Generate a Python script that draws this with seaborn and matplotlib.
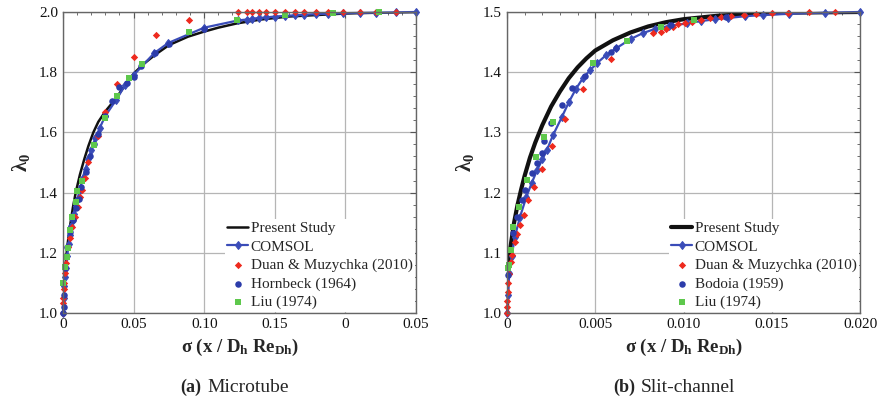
import numpy as np
import pandas as pd
import matplotlib
matplotlib.use("Agg")
import matplotlib.pyplot as plt
import seaborn as sns
from matplotlib.ticker import AutoMinorLocator

# ---------------- data: (a) Microtube ----------------
a_present_x = [0, 0.0005, 0.001, 0.002, 0.003, 0.005, 0.007, 0.009, 0.012, 0.015, 0.018, 0.0215, 0.025,
               0.03, 0.037, 0.043, 0.05, 0.057, 0.065, 0.075, 0.0885, 0.10, 0.11, 0.123, 0.14, 0.16,
               0.18, 0.20, 0.225, 0.25]
a_present_y = [1.0, 1.07, 1.11, 1.17, 1.22, 1.29, 1.35, 1.40, 1.46, 1.51, 1.555, 1.60, 1.635,
               1.67, 1.71, 1.75, 1.795, 1.827, 1.857, 1.89, 1.918, 1.935, 1.948, 1.962, 1.975, 1.985,
               1.99, 1.995, 1.998, 2.0]

a_comsol_x = [0, 0.0005, 0.001, 0.0015, 0.002, 0.003, 0.004, 0.005, 0.006, 0.007, 0.008, 0.009, 0.010,
              0.012, 0.014, 0.016, 0.018, 0.020, 0.023, 0.026, 0.030, 0.0375, 0.044, 0.050, 0.0645,
              0.0745, 0.100, 0.124, 0.130, 0.134, 0.139, 0.144, 0.150, 0.157, 0.164, 0.171, 0.179,
              0.188, 0.198, 0.210, 0.222, 0.236, 0.25]
a_comsol_y = [1.0, 1.05, 1.09, 1.12, 1.15, 1.19, 1.23, 1.26, 1.29, 1.31, 1.33, 1.355, 1.375,
              1.41, 1.45, 1.48, 1.51, 1.54, 1.58, 1.615, 1.655, 1.707, 1.757, 1.79, 1.863,
              1.897, 1.948, 1.972, 1.975, 1.978, 1.98, 1.982, 1.985, 1.987, 1.989, 1.991, 1.993,
              1.994, 1.996, 1.997, 1.998, 1.999, 2.0]

a_duan_x = [0, 0.0002, 0.0003, 0.0004, 0.0008, 0.0014, 0.0021, 0.0038, 0.005, 0.0066, 0.0085, 0.0108,
            0.012, 0.0132, 0.0156, 0.0179, 0.0246, 0.030, 0.038, 0.0503, 0.0658, 0.089,
            0.124, 0.130, 0.134, 0.139, 0.144, 0.150, 0.157, 0.164, 0.171, 0.179, 0.188, 0.198,
            0.210, 0.222, 0.236]
a_duan_y = [1.0, 1.033, 1.05, 1.08, 1.10, 1.133, 1.166, 1.22, 1.249, 1.287, 1.32, 1.353,
            1.386, 1.409, 1.447, 1.503, 1.588, 1.668, 1.761, 1.85, 1.924, 1.973,
            2.0, 2.0, 2.0, 2.0, 2.0, 2.0, 2.0, 2.0, 2.0, 2.0, 2.0, 2.0,
            2.0, 2.0, 2.0]

a_hornbeck_x = [0, 0.0005, 0.001, 0.0015, 0.003, 0.005, 0.007, 0.009, 0.011, 0.013, 0.016, 0.019,
                0.022, 0.025, 0.03, 0.035, 0.04, 0.045, 0.05, 0.055, 0.065, 0.075, 0.1]
a_hornbeck_y = [1.0, 1.02, 1.06, 1.15, 1.22, 1.27, 1.31, 1.35, 1.38, 1.42, 1.47, 1.52,
                1.56, 1.595, 1.655, 1.705, 1.75, 1.765, 1.785, 1.82, 1.865, 1.893, 1.945]

a_liu_x = [0.0002, 0.0014, 0.0026, 0.0033, 0.005, 0.0066, 0.009, 0.0101, 0.0132, 0.022, 0.0297,
           0.0385, 0.0467, 0.0557, 0.0892, 0.123, 0.157, 0.191, 0.224]
a_liu_y = [1.10, 1.154, 1.187, 1.216, 1.276, 1.32, 1.37, 1.406, 1.438, 1.558, 1.647,
           1.722, 1.782, 1.826, 1.932, 1.973, 1.99, 1.998, 2.0]

a_xticks = [0, 0.05, 0.10, 0.15, 0.20, 0.25]
a_xticklabels = ["0", "0.05", "0.10", "0.15", "0", "0.05"]
a_yticks = [1.0, 1.2, 1.4, 1.6, 1.8, 2.0]

# ---------------- data: (b) Slit-channel ----------------
b_present_x = [0, 0.00002, 0.0001, 0.0002, 0.0004, 0.0006, 0.0008, 0.001, 0.0013, 0.0016, 0.002,
               0.0025, 0.003, 0.0035, 0.004, 0.0045, 0.005, 0.006, 0.007, 0.008, 0.009, 0.010,
               0.012, 0.014, 0.016, 0.02]
b_present_y = [1.0, 1.06, 1.09, 1.11, 1.15, 1.18, 1.205, 1.228, 1.258, 1.283, 1.312,
               1.343, 1.368, 1.39, 1.408, 1.423, 1.436, 1.453, 1.466, 1.476, 1.483, 1.488,
               1.494, 1.497, 1.499, 1.5]

b_comsol_x = [0, 0.00005, 0.00013, 0.00026, 0.00045, 0.00074, 0.0011, 0.0014, 0.0017, 0.002, 0.00225,
              0.0026, 0.0031, 0.0035, 0.0039, 0.0043, 0.0047, 0.0051, 0.0056, 0.0062, 0.007, 0.0077,
              0.0084, 0.0092, 0.0102, 0.011, 0.0118, 0.0125, 0.0135, 0.0145, 0.016, 0.018, 0.02]
b_comsol_y = [1.0, 1.03, 1.066, 1.094, 1.127, 1.16, 1.193, 1.216, 1.237, 1.255, 1.27,
              1.295, 1.325, 1.35, 1.372, 1.39, 1.403, 1.415, 1.428, 1.44, 1.455, 1.465,
              1.472, 1.477, 1.481, 1.485, 1.488, 1.49, 1.493, 1.495, 1.497, 1.499, 1.5]

b_duan_x = [0, 0.00001, 0.00002, 0.00004, 0.00006, 0.0001, 0.0002, 0.00027, 0.00045, 0.00057, 0.00074,
            0.00096, 0.0012, 0.00153, 0.00197, 0.00253, 0.00329, 0.0043, 0.0059, 0.0083, 0.0087,
            0.009, 0.0094, 0.0097, 0.0101, 0.0105, 0.011, 0.0115, 0.0121, 0.0127, 0.0134, 0.0141,
            0.015, 0.0159, 0.0171, 0.0186]
b_duan_y = [1.0, 1.01, 1.02, 1.035, 1.05, 1.065, 1.085, 1.097, 1.118, 1.131, 1.146,
            1.163, 1.188, 1.209, 1.24, 1.277, 1.322, 1.372, 1.422, 1.465, 1.467,
            1.471, 1.475, 1.48, 1.481, 1.484, 1.487, 1.49, 1.492, 1.494, 1.495, 1.497,
            1.498, 1.499, 1.5, 1.5]

b_bodoia_x = [0.00006, 0.00032, 0.00055, 0.00083, 0.001, 0.0014, 0.0017, 0.002, 0.0021, 0.0025, 0.0031,
              0.0037, 0.0044, 0.0059, 0.0062, 0.0093, 0.0124]
b_bodoia_y = [1.063, 1.133, 1.16, 1.188, 1.204, 1.232, 1.249, 1.265, 1.285, 1.315, 1.346,
              1.373, 1.393, 1.434, 1.44, 1.478, 1.492]

b_liu_x = [0.00003, 0.0001, 0.0002, 0.00032, 0.00068, 0.00114, 0.00164, 0.0021, 0.0026, 0.0049,
           0.0068, 0.0087, 0.0106]
b_liu_y = [1.075, 1.08, 1.105, 1.143, 1.176, 1.221, 1.259, 1.292, 1.317, 1.415,
           1.452, 1.475, 1.487]

b_xticks = [0, 0.005, 0.010, 0.015, 0.020]
b_xticklabels = ["0", "0.005", "0.010", "0.015", "0.020"]
b_yticks = [1.0, 1.1, 1.2, 1.3, 1.4, 1.5]

# ---------------- style ----------------
sns.set_style("white")
plt.rcParams["font.family"] = ["Liberation Serif", "DejaVu Serif"]
plt.rcParams["mathtext.fontset"] = "custom"
plt.rcParams["mathtext.rm"] = "Liberation Serif"
plt.rcParams["mathtext.bf"] = "Liberation Serif:bold"
plt.rcParams["mathtext.it"] = "Liberation Serif:italic"

C_BLACK = "#111111"
C_BLUE = "#3a4cb8"
C_RED = "#ee2a1e"
C_CIRC = "#2c3caa"
C_GREEN = "#5ec84c"

fig = plt.figure(figsize=(8.8, 3.98), dpi=100)
axA = fig.add_axes([63 / 880, 1 - 313 / 398, 353 / 880, 301 / 398])
axB = fig.add_axes([507 / 880, 1 - 313 / 398, 353 / 880, 301 / 398])


def draw(ax, px, py, cx, cy, dx, dy, ox, oy, olabel, lx, ly, lw_present):
    sns.lineplot(x=px, y=py, ax=ax, color=C_BLACK, lw=lw_present, sort=False,
                 estimator=None, label="Present Study", zorder=3,
                 solid_joinstyle="round", solid_capstyle="round")
    sns.lineplot(x=cx, y=cy, ax=ax, color=C_BLUE, lw=1.6, marker="d", markersize=4.5,
                 markeredgecolor=C_BLUE, sort=False, estimator=None, label="COMSOL", zorder=4,
                 clip_on=False)
    sns.scatterplot(x=dx, y=dy, ax=ax, color=C_RED, marker="D", s=14, linewidth=0,
                    label="Duan & Muzychka (2010)", zorder=5, clip_on=False)
    sns.scatterplot(x=ox, y=oy, ax=ax, color=C_CIRC, marker="o", s=22, linewidth=0,
                    label=olabel, zorder=5, clip_on=False)
    sns.scatterplot(x=lx, y=ly, ax=ax, color=C_GREEN, marker="s", s=14, linewidth=0,
                    label="Liu (1974)", zorder=6, clip_on=False)


draw(axA, a_present_x, a_present_y, a_comsol_x, a_comsol_y, a_duan_x, a_duan_y,
     a_hornbeck_x, a_hornbeck_y, "Hornbeck (1964)", a_liu_x, a_liu_y, 1.8)
draw(axB, b_present_x, b_present_y, b_comsol_x, b_comsol_y, b_duan_x, b_duan_y,
     b_bodoia_x, b_bodoia_y, "Bodoia (1959)", b_liu_x, b_liu_y, 3.0)

xlabel = r"σ (x / D$_{\mathbf{h}}$ Re$_{\mathbf{Dh}}$)"
for ax, xt, xtl, yt, xlim, ylim in [
    (axA, a_xticks, a_xticklabels, a_yticks, (0, 0.25), (1.0, 2.0)),
    (axB, b_xticks, b_xticklabels, b_yticks, (0, 0.020), (1.0, 1.5)),
]:
    ax.set_xlim(*xlim)
    ax.set_ylim(*ylim)
    ax.set_xticks(xt)
    ax.set_xticklabels(xtl)
    ax.set_yticks(yt)
    ax.set_yticklabels([f"{v:.1f}" for v in yt])
    ax.xaxis.set_minor_locator(AutoMinorLocator(5))
    ax.yaxis.set_minor_locator(AutoMinorLocator(5))
    ax.tick_params(which="both", direction="in", top=True, right=True, colors="#555555",
                   labelcolor="#111111", labelsize=11)
    ax.tick_params(which="major", length=4, width=0.8)
    ax.tick_params(which="minor", length=2, width=0.6)
    ax.grid(True, which="major", color="#b5b5b5", lw=0.9)
    ax.set_axisbelow(True)
    for s in ax.spines.values():
        s.set_color("#666666")
        s.set_linewidth(1.0)
        s.set_zorder(8)
    ax.set_xlabel(xlabel, fontsize=13.5, fontweight="bold", labelpad=4)
    ax.set_ylabel(r"λ$_{\mathbf{0}}$", fontsize=15, fontweight="bold", labelpad=5)
    leg = ax.legend(loc="lower right", bbox_to_anchor=(1.0, 0.0), fontsize=11,
                    frameon=True, framealpha=1.0, facecolor="white", edgecolor="none",
                    handlelength=1.4, handletextpad=0.15, labelspacing=0.31,
                    borderpad=0.15, borderaxespad=0.08, markerscale=1.0)
    leg.set_zorder(10)

fig.text(201 / 880, 1 - 387 / 398, "(a)", fontsize=13, fontweight="bold", ha="right", va="center")
fig.text(207 / 880, 1 - 387 / 398, "Microtube", fontsize=14, ha="left", va="center")
fig.text(635 / 880, 1 - 387 / 398, "(b)", fontsize=13, fontweight="bold", ha="right", va="center")
fig.text(641 / 880, 1 - 387 / 398, "Slit-channel", fontsize=14, ha="left", va="center")

fig.savefig("out.png", dpi=100)
